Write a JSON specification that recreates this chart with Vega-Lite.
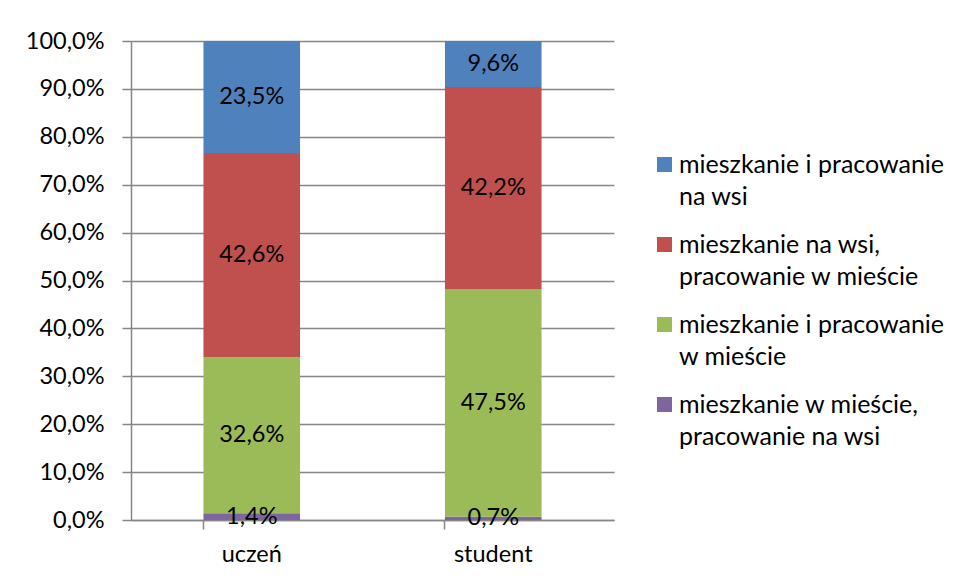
{
  "$schema": "https://vega.github.io/schema/vega-lite/v6.json",
  "width": 483,
  "height": 479,
  "autosize": {"type": "none"},
  "padding": {"left": 131, "top": 41, "right": 344, "bottom": 61},
  "background": "white",
  "config": {
    "locale": {"number": {"decimal": ",", "thousands": " ", "grouping": [3], "currency": ["", " zł"]}},
    "font": "Lato",
    "view": {"stroke": null},
    "style": {"guide-label": {"lineHeight": 32}},
    "axis": {
      "labelFont": "Lato",
      "labelFontSize": 23.5,
      "labelColor": "#000000",
      "domainColor": "#868686",
      "domainWidth": 1.5,
      "tickColor": "#868686",
      "tickWidth": 1.5,
      "tickSize": 9,
      "title": null
    }
  },
  "data": {
    "values": [
      {"grupa": "uczeń", "kat": "mieszkanie w mieście, pracowanie na wsi", "v": 0.014, "k": 1},
      {"grupa": "uczeń", "kat": "mieszkanie i pracowanie w mieście", "v": 0.326, "k": 2},
      {"grupa": "uczeń", "kat": "mieszkanie na wsi, pracowanie w mieście", "v": 0.426, "k": 3},
      {"grupa": "uczeń", "kat": "mieszkanie i pracowanie na wsi", "v": 0.235, "k": 4},
      {"grupa": "student", "kat": "mieszkanie w mieście, pracowanie na wsi", "v": 0.007, "k": 1},
      {"grupa": "student", "kat": "mieszkanie i pracowanie w mieście", "v": 0.475, "k": 2},
      {"grupa": "student", "kat": "mieszkanie na wsi, pracowanie w mieście", "v": 0.422, "k": 3},
      {"grupa": "student", "kat": "mieszkanie i pracowanie na wsi", "v": 0.096, "k": 4}
    ]
  },
  "encoding": {
    "x": {
      "field": "grupa",
      "type": "nominal",
      "sort": ["uczeń", "student"],
      "scale": {"paddingInner": 0.6, "paddingOuter": 0.3},
      "axis": {"labelAngle": 0, "bandPosition": 0, "labelPadding": 13, "grid": false, "domain": true}
    },
    "order": {"field": "k", "type": "quantitative", "sort": "ascending"}
  },
  "layer": [
    {
      "mark": {"type": "bar", "clip": true},
      "encoding": {
        "y": {
          "field": "v",
          "type": "quantitative",
          "stack": "zero",
          "scale": {"domain": [0, 1], "nice": false},
          "axis": {
            "format": ".1%",
            "values": [0, 0.1, 0.2, 0.3, 0.4, 0.5, 0.6, 0.7, 0.8, 0.9, 1],
            "grid": true,
            "gridColor": "#868686",
            "gridWidth": 1.5,
            "labelPadding": 18
          }
        },
        "color": {
          "field": "kat",
          "type": "nominal",
          "scale": {
            "domain": [
              "mieszkanie i pracowanie na wsi",
              "mieszkanie na wsi, pracowanie w mieście",
              "mieszkanie i pracowanie w mieście",
              "mieszkanie w mieście, pracowanie na wsi"
            ],
            "range": ["#4F81BD", "#C0504D", "#9BBB59", "#8064A2"]
          },
          "legend": {
            "title": null,
            "orient": "none",
            "legendX": 521,
            "legendY": 111,
            "symbolType": "square",
            "symbolSize": 225,
            "symbolStrokeWidth": 0,
            "labelFont": "Lato",
            "labelFontSize": 25,
            "labelColor": "#000000",
            "labelLimit": 400,
            "labelOffset": 2,
            "rowPadding": 22,
            "labelExpr": "datum.label == 'mieszkanie i pracowanie na wsi' ? ['mieszkanie i pracowanie', 'na wsi'] : datum.label == 'mieszkanie na wsi, pracowanie w mieście' ? ['mieszkanie na wsi,', 'pracowanie w mieście'] : datum.label == 'mieszkanie i pracowanie w mieście' ? ['mieszkanie i pracowanie', 'w mieście'] : ['mieszkanie w mieście,', 'pracowanie na wsi']"
          }
        }
      }
    },
    {
      "mark": {"type": "text", "font": "Lato", "fontSize": 23.5, "color": "#000000", "baseline": "middle"},
      "encoding": {
        "y": {"field": "v", "type": "quantitative", "stack": "zero", "bandPosition": 0.5},
        "text": {"field": "v", "type": "quantitative", "format": ".1%"}
      }
    }
  ]
}
